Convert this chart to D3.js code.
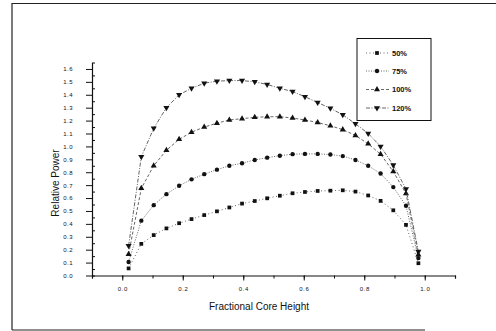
<!DOCTYPE html>
<html><head><meta charset="utf-8">
<script src="https://cdn.jsdelivr.net/npm/d3@7"></script>
<style>
html,body{margin:0;padding:0;background:#fff;}
svg{display:block;font-family:"Liberation Sans",Arial,sans-serif;}
</style></head>
<body>
<svg id="c" width="496" height="331"></svg>
<script>
const xValues = [0.021,0.063,0.104,0.146,0.188,0.229,0.271,0.313,0.354,0.396,0.438,0.479,0.521,0.563,0.604,0.646,0.688,0.729,0.771,0.813,0.854,0.896,0.938,0.979];
const s50  = [0.055,0.245,0.313,0.365,0.405,0.437,0.468,0.497,0.527,0.557,0.577,0.598,0.618,0.637,0.647,0.655,0.657,0.66,0.65,0.62,0.578,0.505,0.392,0.095];
const s75  = [0.105,0.425,0.545,0.63,0.695,0.745,0.785,0.82,0.85,0.87,0.895,0.913,0.928,0.94,0.942,0.942,0.937,0.925,0.895,0.85,0.79,0.685,0.54,0.135];
const s100 = [0.165,0.675,0.85,0.97,1.055,1.11,1.15,1.18,1.205,1.215,1.225,1.23,1.23,1.22,1.205,1.185,1.16,1.13,1.085,1.02,0.94,0.805,0.635,0.16];
const s120 = [0.23,0.92,1.14,1.30,1.40,1.45,1.49,1.505,1.51,1.51,1.50,1.48,1.45,1.425,1.385,1.34,1.295,1.245,1.175,1.10,1.00,0.855,0.67,0.185];
const seriesNames = ["50%","75%","100%","120%"];
const xTicks = [0,0.2,0.4,0.6,0.8,1.0];
const xTickLabels = ["0.0","0.2","0.4","0.6","0.8","1.0"];
const yTicks = [0,0.1,0.2,0.3,0.4,0.5,0.6,0.7,0.8,0.9,1.0,1.1,1.2,1.3,1.4,1.5,1.6];
const yTickLabels = ["0.0","0.1","0.2","0.3","0.4","0.5","0.6","0.7","0.8","0.9","1.0","1.1","1.2","1.3","1.4","1.5","1.6"];
const xTitle = "Fractional Core Height";
const yTitle = "Relative Power";

const svg = d3.select("#c");
const x = d3.scaleLinear().domain([-0.1,1.1]).range([92,455]);
const y = d3.scaleLinear().domain([0,1.65]).range([275.5,62.5]);

// outer frame (partial, as in scan)
svg.append("line").attr("x1",12).attr("x2",496).attr("y1",3.5).attr("y2",3.5).attr("stroke","#222").attr("stroke-width",1.2);
svg.append("line").attr("x1",12).attr("x2",12).attr("y1",3).attr("y2",330).attr("stroke","#222").attr("stroke-width",1.2);
svg.append("line").attr("x1",12).attr("x2",425).attr("y1",330).attr("y2",330).attr("stroke","#222").attr("stroke-width",1.2);

// axes
const gx = svg.append("g").attr("transform",`translate(0,${y(0)})`);
gx.call(d3.axisBottom(x).tickValues(d3.range(-0.1,1.1001,0.1)).tickSize(3).tickFormat(""));
const gx2 = svg.append("g").attr("transform",`translate(0,${y(0)})`);
gx2.call(d3.axisBottom(x).tickValues(xTicks).tickSize(5).tickPadding(6).tickFormat((d,i)=>xTickLabels[i]));
gx2.select(".domain").remove();
gx.select(".domain").attr("stroke","#111").attr("stroke-width",1.2);
gx2.selectAll("text").attr("font-size","6px").attr("letter-spacing","0.6px").attr("fill","#111");

const gy = svg.append("g").attr("transform",`translate(${x(-0.1)},0)`);
gy.call(d3.axisLeft(y).tickValues(d3.range(0.05,1.65,0.1)).tickSize(-3).tickFormat(""));
const gy2 = svg.append("g").attr("transform",`translate(${x(-0.1)},0)`);
gy2.call(d3.axisLeft(y).tickValues(yTicks).tickSize(6).tickPadding(13).tickFormat((d,i)=>yTickLabels[i]));
gy2.select(".domain").remove();
gy.select(".domain").attr("stroke","#111").attr("stroke-width",1.2);
gy2.selectAll("text").attr("font-size","6px").attr("letter-spacing","0.5px").attr("fill","#111");
svg.selectAll(".tick line").attr("stroke","#111");

// titles
svg.append("text").attr("x",259).attr("y",310).attr("text-anchor","middle").attr("font-size","10px").attr("fill","#111").text(xTitle);
svg.append("text").attr("transform","translate(59,183) rotate(-90)").attr("text-anchor","middle").attr("font-size","10px").attr("fill","#111").text(yTitle);

// series
const series = [
  {name:seriesNames[0], vals:s50, dash:"1,2.5", sym:d3.symbolSquare, size:14},
  {name:seriesNames[1], vals:s75, dash:"1,1.5", sym:d3.symbolCircle, size:15},
  {name:seriesNames[2], vals:s100, dash:"3,2", sym:d3.symbolTriangle, size:16},
  {name:seriesNames[3], vals:s120, dash:"4,1.5,1,1.5", sym:d3.symbolTriangle, size:16, flip:true}
];
const line = d3.line().x(d=>x(d[0])).y(d=>y(d[1]));
series.forEach(s=>{
  const pts = xValues.map((xv,i)=>[xv,s.vals[i]]);
  svg.append("path").attr("d",line(pts)).attr("fill","none").attr("stroke","#555").attr("stroke-width",0.9).attr("stroke-dasharray",s.dash);
  svg.append("g").selectAll("path").data(pts).join("path")
    .attr("d",d3.symbol().type(s.sym).size(s.size))
    .attr("transform",d=>`translate(${x(d[0])},${y(d[1])})${s.flip?" rotate(180)":""}`)
    .attr("fill","#111");
});

// legend
const lg = svg.append("g");
lg.append("rect").attr("x",357).attr("y",38.5).attr("width",74).attr("height",82).attr("fill","#fff").attr("stroke","#111").attr("stroke-width",1);
const legY = [53,71,89.5,108];
series.forEach((s,i)=>{
  lg.append("line").attr("x1",366).attr("x2",389).attr("y1",legY[i]).attr("y2",legY[i]).attr("stroke","#555").attr("stroke-width",0.9).attr("stroke-dasharray",s.dash);
  lg.append("path").attr("d",d3.symbol().type(s.sym).size(s.size)()).attr("transform",`translate(377,${legY[i]})${s.flip?" rotate(180)":""}`).attr("fill","#111");
  lg.append("text").attr("x",392).attr("y",legY[i]+2.8).attr("font-size","7.5px").attr("font-weight","bold").attr("fill","#111").text(s.name);
});
</script>
</body></html>
